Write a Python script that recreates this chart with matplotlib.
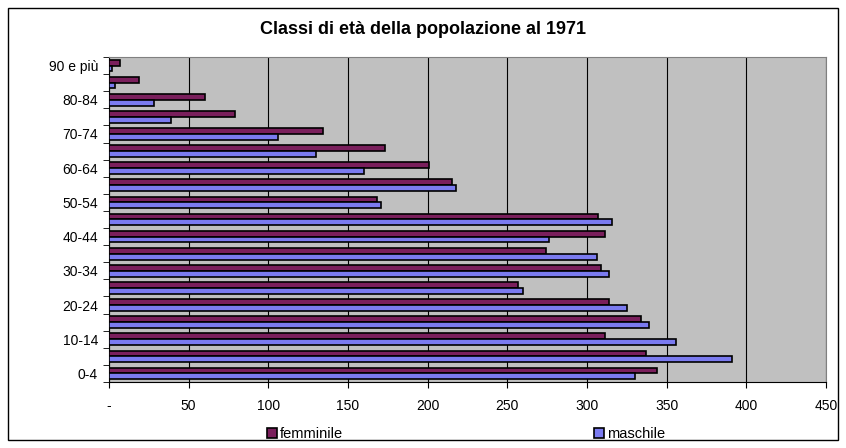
import numpy as np
import matplotlib
matplotlib.use("Agg")
import matplotlib.pyplot as plt
from matplotlib.patches import Rectangle

MAROON = "#7A1F5C"
LAVENDER = "#7B7BF0"
PLOT_BG = "#C0C0C0"

plt.rcParams.update({
    "font.family": ["Liberation Sans", "DejaVu Sans"],
    "font.size": 10,
})

classi = ["0-4", "5-9", "10-14", "15-19", "20-24", "25-29", "30-34", "35-39",
          "40-44", "45-49", "50-54", "55-59", "60-64", "65-69", "70-74",
          "75-79", "80-84", "85-89", "90 e più"]
femminile = [344, 337, 311, 334, 314, 257, 309, 274, 311, 307,
             168, 215, 201, 173, 134, 79, 60, 19, 7]
maschile = [330, 391, 356, 339, 325, 260, 314, 306, 276, 316,
            171, 218, 160, 130, 106, 39, 28, 4, 2]
xticks = [0, 50, 100, 150, 200, 250, 300, 350, 400, 450]

fig = plt.figure(figsize=(8.46, 4.48), dpi=100)
ax = fig.add_axes([109 / 846, 1 - 382 / 448, (826 - 109) / 846, (382 - 57) / 448])

y = np.arange(len(classi))
h = 0.34
ax.barh(y + h / 2, femminile, height=h, color=MAROON, edgecolor="black",
        linewidth=1.2, label="femminile", zorder=3)
ax.barh(y - h / 2, maschile, height=h, color=LAVENDER, edgecolor="black",
        linewidth=1.2, label="maschile", zorder=3)

ax.set_facecolor(PLOT_BG)
ax.set_xlim(0, 450)
ax.set_ylim(-0.5, len(classi) - 0.5)
ax.set_xticks(xticks)
ax.set_xticklabels(["-"] + [str(v) for v in xticks[1:]])
ax.grid(axis="x", color="black", linewidth=0.8, zorder=1)
ax.tick_params(axis="x", length=4, direction="out", pad=8, colors="black")

ax.set_yticks(y[::2])
ax.set_yticklabels(classi[::2])
ax.set_yticks(np.arange(len(classi) + 1) - 0.5, minor=True)
ax.tick_params(axis="y", which="major", length=0, pad=8)
ax.tick_params(axis="y", which="minor", length=4, direction="out")

for s in ("top", "right"):
    ax.spines[s].set_color("#808080")
for s in ("left", "bottom"):
    ax.spines[s].set_color("black")

fig.text(423 / 846, 1 - 30 / 448, "Classi di età della popolazione al 1971",
         ha="center", va="center", fontsize=13, fontweight="bold")

leg = fig.legend(loc="center", bbox_to_anchor=(0.551, 1 - 434 / 448), ncol=2,
                 frameon=False, columnspacing=17.2, handlelength=0.7,
                 handleheight=0.7, handletextpad=0.2, fontsize=10.5)

fig.patches.append(Rectangle((8 / 846, 8 / 448), 830 / 846, 432 / 448,
                             transform=fig.transFigure, fill=False,
                             edgecolor="black", linewidth=1.0))

fig.savefig("out.png", dpi=100)
